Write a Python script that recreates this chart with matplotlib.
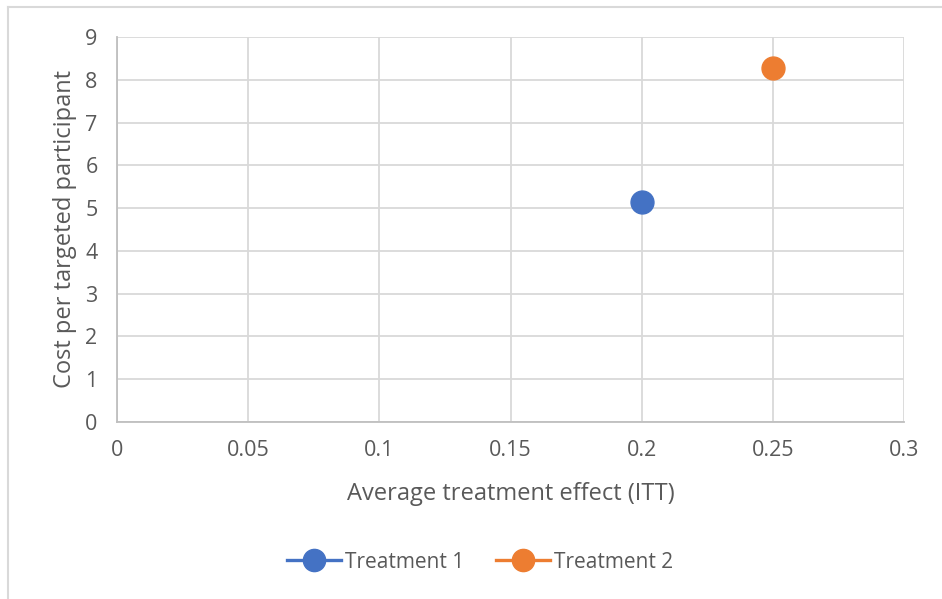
import matplotlib
matplotlib.use("Agg")
import matplotlib.pyplot as plt
from matplotlib.lines import Line2D

# data
series = ["Treatment 1", "Treatment 2"]
itt = [0.2, 0.25]
cost = [5.14, 8.28]
colors = ["#4472C4", "#ED7D31"]

x_ticks = [0, 0.05, 0.1, 0.15, 0.2, 0.25, 0.3]
x_labels = ["0", "0.05", "0.1", "0.15", "0.2", "0.25", "0.3"]
y_ticks = list(range(0, 10))

plt.rcParams["font.family"] = ["Open Sans", "DejaVu Sans"]
txt = "#595959"

W, H = 942, 599
fig = plt.figure(figsize=(W / 100, H / 100), dpi=100)
ax = fig.add_axes([117 / W, 1 - 422 / H, (904 - 117) / W, (422 - 37) / H])

for name, x, y, c in zip(series, itt, cost, colors):
    ax.plot([x], [y], marker="o", markersize=16.5, color=c, linestyle="none",
            label=name, zorder=3)

ax.set_xlim(0, 0.3)
ax.set_ylim(0, 9)
ax.set_xticks(x_ticks)
ax.set_xticklabels(x_labels)
ax.set_yticks(y_ticks)
ax.grid(True, color="#d9d9d9", linewidth=1.3)
ax.set_axisbelow(True)
ax.tick_params(length=0, labelsize=15.5, colors=txt)
ax.tick_params(axis="x", pad=13)
ax.tick_params(axis="y", pad=14)
for s in ["top", "right"]:
    ax.spines[s].set_visible(False)
for s in ["left", "bottom"]:
    ax.spines[s].set_color("#bfbfbf")
    ax.spines[s].set_linewidth(1.3)

ax.set_xlabel("Average treatment effect (ITT)", fontsize=17, color=txt, labelpad=15)
ax.set_ylabel("Cost per targeted participant", fontsize=17, color=txt, labelpad=6)

handles = [Line2D([0], [0], color=c, marker="o", markersize=16, linewidth=2.4)
           for c in colors]
fig.legend(handles, series, loc="center", bbox_to_anchor=(480 / W, 1 - 562 / H),
           ncol=2, frameon=False, fontsize=15, labelcolor=txt,
           handlelength=2.6, handletextpad=0.2, columnspacing=1.5)

# chart area border (only top and left are visible in the crop)
fig.add_artist(Line2D([8 / W, 1.0], [1 - 7 / H, 1 - 7 / H], color="#d9d9d9",
                      linewidth=1.5, transform=fig.transFigure))
fig.add_artist(Line2D([8 / W, 8 / W], [0, 1 - 7 / H], color="#d9d9d9",
                      linewidth=1.5, transform=fig.transFigure))

fig.savefig("out.png", dpi=100)
